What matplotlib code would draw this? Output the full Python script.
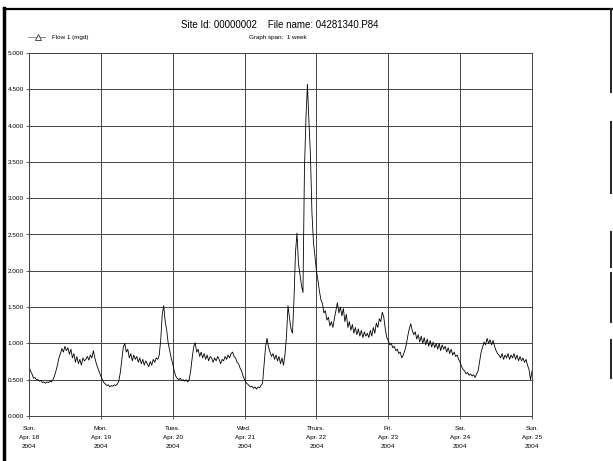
import numpy as np
import matplotlib.pyplot as plt
from matplotlib.lines import Line2D

plt.rcParams['font.family'] = ['Liberation Sans', 'DejaVu Sans']

# flow readings, one value every 30 minutes, one list per day (mgd)
sun_18 = [0.68, 0.62, 0.58, 0.52, 0.53, 0.50, 0.50, 0.48, 0.49, 0.46, 0.47, 0.45,
          0.47, 0.46, 0.48, 0.47, 0.50, 0.55, 0.62, 0.70, 0.80, 0.86, 0.93, 0.88,
          0.96, 0.90, 0.94, 0.85, 0.92, 0.80, 0.86, 0.74, 0.82, 0.72, 0.78, 0.70,
          0.80, 0.76, 0.78, 0.82, 0.77, 0.84, 0.80, 0.90, 0.80, 0.72, 0.66, 0.60]
mon_19 = [0.55, 0.50, 0.46, 0.44, 0.42, 0.43, 0.40, 0.42, 0.41, 0.43, 0.42, 0.44,
          0.48, 0.60, 0.78, 0.95, 1.00, 0.88, 0.92, 0.80, 0.86, 0.76, 0.84, 0.78,
          0.82, 0.74, 0.80, 0.72, 0.78, 0.70, 0.76, 0.72, 0.68, 0.75, 0.70, 0.78,
          0.74, 0.80, 0.78, 0.84, 1.05, 1.40, 1.52, 1.30, 1.18, 1.00, 0.90, 0.80]
tue_20 = [0.72, 0.62, 0.55, 0.52, 0.50, 0.52, 0.49, 0.50, 0.48, 0.50, 0.47, 0.50,
          0.62, 0.80, 0.95, 1.01, 0.88, 0.92, 0.82, 0.88, 0.80, 0.86, 0.78, 0.84,
          0.76, 0.82, 0.80, 0.74, 0.80, 0.76, 0.82, 0.78, 0.72, 0.78, 0.76, 0.82,
          0.78, 0.84, 0.80, 0.86, 0.88, 0.82, 0.80, 0.74, 0.72, 0.66, 0.62, 0.55]
wed_21 = [0.50, 0.46, 0.44, 0.42, 0.40, 0.41, 0.38, 0.40, 0.37, 0.40, 0.39, 0.42,
          0.45, 0.70, 0.95, 1.07, 0.95, 0.88, 0.82, 0.86, 0.78, 0.84, 0.76, 0.82,
          0.72, 0.80, 0.70, 0.85, 1.10, 1.52, 1.35, 1.20, 1.14, 1.60, 2.25, 2.52,
          2.10, 1.95, 1.80, 1.70, 3.40, 4.10, 4.57, 4.05, 3.60, 2.80, 2.40, 2.20]
thu_22 = [2.00, 1.87, 1.72, 1.60, 1.55, 1.42, 1.45, 1.32, 1.36, 1.24, 1.30, 1.22,
          1.34, 1.45, 1.56, 1.42, 1.50, 1.38, 1.48, 1.30, 1.40, 1.22, 1.30, 1.18,
          1.26, 1.14, 1.22, 1.12, 1.20, 1.10, 1.18, 1.08, 1.16, 1.10, 1.14, 1.08,
          1.18, 1.10, 1.22, 1.14, 1.28, 1.22, 1.34, 1.30, 1.43, 1.36, 1.20, 1.08]
fri_23 = [1.04, 0.98, 1.00, 0.94, 0.96, 0.90, 0.92, 0.86, 0.88, 0.80, 0.84, 0.90,
          0.98, 1.10, 1.20, 1.27, 1.18, 1.12, 1.16, 1.06, 1.12, 1.02, 1.10, 1.00,
          1.08, 0.98, 1.06, 0.96, 1.04, 0.95, 1.02, 0.94, 1.00, 0.92, 1.00, 0.90,
          0.98, 0.92, 0.96, 0.88, 0.94, 0.86, 0.92, 0.84, 0.88, 0.82, 0.84, 0.78]
sat_24 = [0.74, 0.68, 0.64, 0.62, 0.58, 0.60, 0.56, 0.58, 0.55, 0.57, 0.53, 0.58,
          0.62, 0.75, 0.88, 0.95, 1.02, 0.98, 1.07, 1.00, 1.05, 0.98, 1.04, 0.96,
          0.90, 0.86, 0.84, 0.80, 0.86, 0.78, 0.84, 0.80, 0.86, 0.78, 0.84, 0.80,
          0.86, 0.78, 0.84, 0.76, 0.82, 0.76, 0.80, 0.74, 0.78, 0.70, 0.64, 0.50]
sun_25 = [0.62]

day_labels = ['Sun.\nApr. 18\n2004', 'Mon.\nApr. 19\n2004', 'Tues.\nApr. 20\n2004',
              'Wed.\nApr. 21\n2004', 'Thurs.\nApr. 22\n2004', 'Fri.\nApr. 23\n2004',
              'Sat.\nApr. 24\n2004', 'Sun.\nApr. 25\n2004']

flow = np.array(sun_18 + mon_19 + tue_20 + wed_21 + thu_22 + fri_23 + sat_24 + sun_25)
hours = np.arange(len(flow)) * 0.5

W, H = 613, 461
fig = plt.figure(figsize=(W / 100, H / 100), dpi=100)
ax = fig.add_axes([29 / W, (H - 416) / H, (532 - 29) / W, (416 - 53) / H])

ax.plot(hours, flow, color='black', lw=0.6)

ax.set_xlim(0, 168)
ax.set_ylim(0, 5)
ax.set_xticks(np.arange(0, 169, 24))
ax.set_xticklabels(day_labels, fontsize=4.6, linespacing=1.9)
ax.set_yticks(np.arange(0, 5.01, 0.5))
ax.set_yticklabels(['%.3f' % v for v in np.arange(0, 5.01, 0.5)], fontsize=4.6)
ax.tick_params(axis='x', length=2.5, width=0.6, pad=5, color='#444')
ax.tick_params(axis='y', length=2.5, width=0.6, pad=1, color='#444')
ax.grid(True, color='#444', lw=0.7)
for s in ax.spines.values():
    s.set_color('#444')
    s.set_linewidth(0.7)

# header texts
fig.text(280 / W, 1 - 25 / H, 'Site Id: 00000002    File name: 04281340.P84',
         ha='center', va='center', fontsize=7)
fig.text(278 / W, 1 - 37 / H, 'Graph span:  1 week', ha='center', va='center',
         fontsize=4.5)
fig.add_artist(Line2D([28 / W, 45 / W], [1 - 37 / H, 1 - 37 / H], color='#777',
                      lw=0.6))
fig.add_artist(Line2D([38 / W], [1 - 37 / H], marker='^', markersize=4,
                      markerfacecolor='white', markeredgecolor='#333', mew=0.6))
fig.text(52 / W, 1 - 37 / H, 'Flow 1 (mgd)', ha='left', va='center', fontsize=4.5)

# scanned page frame
fig.add_artist(Line2D([4 / W, 4 / W], [0, 1 - 8 / H], color='black', lw=2.5))
fig.add_artist(Line2D([4 / W, 611.5 / W], [1 - 9 / H, 1 - 9 / H], color='black', lw=1.6))
for y0, y1 in [(9, 92), (122, 193), (232, 267), (273, 322), (340, 378)]:
    fig.add_artist(Line2D([611 / W, 611 / W], [1 - y0 / H, 1 - y1 / H],
                          color='#222', lw=1.4))

fig.savefig('out.png', dpi=100)
